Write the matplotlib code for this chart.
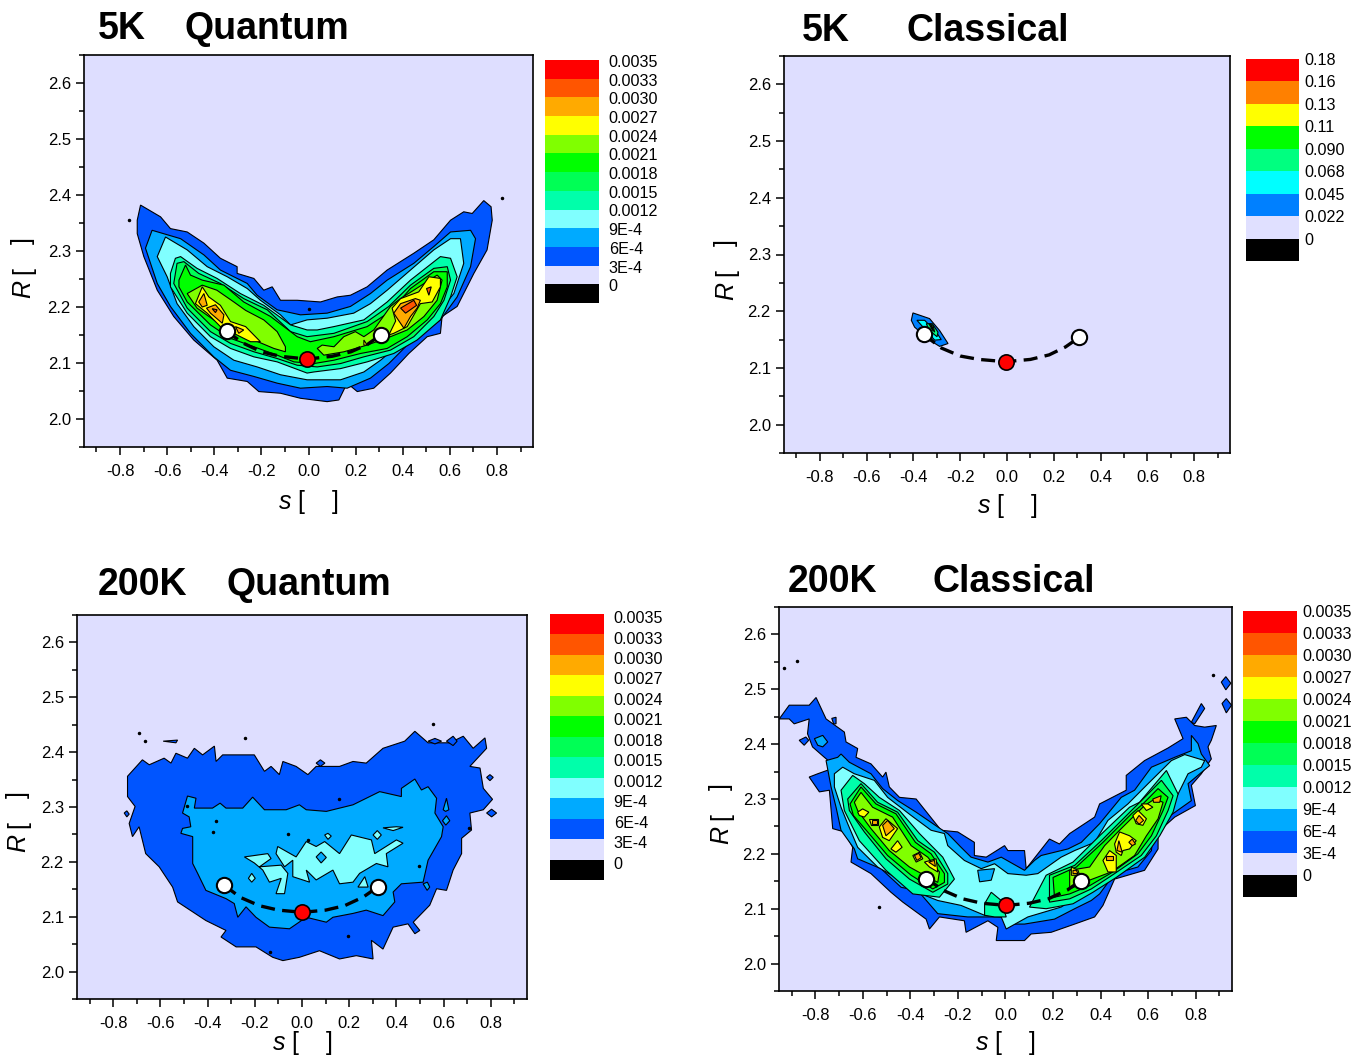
import matplotlib
matplotlib.use("Agg")
import matplotlib.pyplot as plt
from matplotlib.colors import ListedColormap
from matplotlib.ticker import MultipleLocator
import numpy as np

plt.rcParams['font.family'] = ['Liberation Sans', 'DejaVu Sans']
plt.rcParams['axes.unicode_minus'] = False

W, H = 1360, 1057

# colour bands, bottom to top
colors13 = ['#000000', '#E0E0FF', '#0055FF', '#00AAFF', '#80FFFF', '#00FFAA', '#00FF55',
            '#00FF00', '#80FF00', '#FFFF00', '#FFAA00', '#FF5500', '#FF0000']
colors9 = ['#000000', '#E0E0FF', '#0080FF', '#00FFFF', '#00FF80', '#00FF00', '#FFFF00',
           '#FF8000', '#FF0000']
labels13 = ['0', '3E-4', '6E-4', '9E-4', '0.0012', '0.0015', '0.0018', '0.0021', '0.0024',
            '0.0027', '0.0030', '0.0033', '0.0035']
labels9 = ['0', '0.022', '0.045', '0.068', '0.090', '0.11', '0.13', '0.16', '0.18']

# %% contour outlines, (s, R)
a1 = [(-0.727,2.355),(-0.713,2.382),(-0.628,2.361),(-0.586,2.340),(-0.515,2.334),(-0.444,2.314),(-0.374,2.287),
      (-0.303,2.272),(-0.303,2.260),(-0.232,2.251),(-0.190,2.230),(-0.154,2.236),(-0.119,2.212),(-0.048,2.212),
      (0.051,2.209),(0.122,2.218),(0.178,2.221),(0.249,2.236),(0.334,2.266),(0.447,2.296),(0.532,2.320),
      (0.603,2.355),(0.659,2.370),(0.695,2.367),(0.744,2.390),(0.775,2.379),(0.780,2.355),(0.758,2.302),
      (0.702,2.260),(0.631,2.201),(0.567,2.183),(0.560,2.153),(0.504,2.147),(0.426,2.117),(0.348,2.082),
      (0.277,2.055),(0.207,2.049),(0.164,2.064),(0.129,2.034),(0.079,2.031),(-0.034,2.037),(-0.119,2.046),
      (-0.211,2.049),(-0.260,2.067),(-0.345,2.073),(-0.388,2.105),(-0.487,2.141),(-0.572,2.183),(-0.642,2.230),
      (-0.699,2.290),(-0.727,2.331)]
a2 = [(-0.692,2.305),(-0.664,2.337),(-0.543,2.322),(-0.444,2.293),(-0.374,2.266),(-0.260,2.242),(-0.218,2.221),
      (-0.133,2.195),(-0.034,2.186),(0.079,2.189),(0.178,2.201),(0.263,2.224),(0.334,2.248),(0.447,2.278),
      (0.532,2.308),(0.603,2.334),(0.688,2.337),(0.709,2.322),(0.688,2.272),(0.631,2.218),(0.560,2.177),
      (0.504,2.159),(0.412,2.129),(0.341,2.099),(0.263,2.073),(0.164,2.055),(0.079,2.058),(-0.034,2.055),
      (-0.133,2.064),(-0.232,2.076),(-0.331,2.087),(-0.402,2.111),(-0.501,2.153),(-0.586,2.201),(-0.642,2.242)]
a3 = [(-0.642,2.290),(-0.607,2.325),(-0.515,2.302),(-0.430,2.272),(-0.345,2.254),(-0.260,2.233),(-0.204,2.212),
      (-0.119,2.186),(-0.076,2.168),(-0.006,2.177),(0.079,2.180),(0.192,2.189),(0.263,2.206),(0.334,2.230),
      (0.433,2.266),(0.532,2.302),(0.603,2.322),(0.645,2.322),(0.659,2.278),(0.617,2.224),(0.560,2.195),
      (0.490,2.165),(0.391,2.135),(0.306,2.105),(0.235,2.084),(0.136,2.070),(-0.006,2.070),(-0.119,2.079),
      (-0.218,2.093),(-0.317,2.105),(-0.402,2.129),(-0.487,2.165),(-0.558,2.206),(-0.600,2.254)]
a4 = [(-0.586,2.260),(-0.565,2.287),(-0.543,2.290),(-0.473,2.269),(-0.388,2.251),(-0.289,2.224),(-0.190,2.203),
      (-0.076,2.168),(-0.006,2.159),(0.037,2.159),(0.108,2.165),(0.235,2.177),(0.334,2.209),(0.433,2.248),
      (0.560,2.290),(0.603,2.287),(0.631,2.254),(0.603,2.218),(0.560,2.177),(0.461,2.141),(0.362,2.117),
      (0.249,2.102),(0.136,2.090),(0.023,2.084),(-0.006,2.082),(-0.133,2.102),(-0.232,2.111),(-0.331,2.126),
      (-0.416,2.147),(-0.515,2.189),(-0.586,2.236)]
a5 = [(-0.558,2.278),(-0.529,2.281),(-0.466,2.260),(-0.374,2.242),(-0.275,2.215),(-0.175,2.195),(-0.076,2.156),
      (-0.006,2.147),(0.051,2.150),(0.108,2.153),(0.249,2.174),(0.341,2.201),(0.433,2.239),(0.532,2.269),
      (0.589,2.272),(0.603,2.248),(0.575,2.212),(0.532,2.183),(0.447,2.147),(0.348,2.123),(0.235,2.111),
      (0.136,2.099),(0.037,2.093),(-0.048,2.096),(-0.133,2.108),(-0.232,2.120),(-0.331,2.135),(-0.416,2.156),
      (-0.515,2.198),(-0.572,2.242)]
a6 = [(-0.550,2.248),(-0.522,2.275),(-0.501,2.257),(-0.451,2.248),(-0.359,2.239),(-0.275,2.209),(-0.161,2.183),
      (-0.048,2.147),(0.008,2.138),(0.108,2.147),(0.249,2.165),(0.348,2.192),(0.433,2.233),(0.532,2.263),
      (0.589,2.263),(0.589,2.236),(0.560,2.206),(0.504,2.177),(0.419,2.147),(0.334,2.126),(0.221,2.117),
      (0.108,2.105),(0.023,2.099),(-0.062,2.102),(-0.133,2.114),(-0.232,2.129),(-0.331,2.144),(-0.416,2.168),
      (-0.515,2.209),(-0.550,2.236)]
a7l = [(-0.515,2.224),(-0.451,2.239),(-0.389,2.230),(-0.317,2.209),(-0.267,2.194),(-0.190,2.177),(-0.133,2.156),
       (-0.098,2.129),(-0.098,2.120),(-0.147,2.126),(-0.232,2.141),(-0.331,2.159),(-0.402,2.177),(-0.473,2.198)]
a7r = [(0.037,2.126),(0.058,2.132),(0.108,2.129),(0.150,2.147),(0.199,2.156),(0.235,2.147),(0.277,2.159),
       (0.348,2.201),(0.390,2.215),(0.447,2.230),(0.546,2.257),(0.567,2.248),(0.546,2.212),(0.490,2.183),
       (0.419,2.159),(0.348,2.147),(0.249,2.132),(0.150,2.120),(0.065,2.114)]
a8l = [(-0.480,2.206),(-0.451,2.236),(-0.423,2.218),(-0.374,2.203),(-0.331,2.174),(-0.267,2.165),(-0.204,2.138),
       (-0.246,2.138),(-0.289,2.147),(-0.374,2.165),(-0.430,2.189)]
a8r = [(0.341,2.150),(0.370,2.175),(0.355,2.198),(0.391,2.215),(0.468,2.227),(0.511,2.254),(0.560,2.251),
       (0.560,2.236),(0.525,2.209),(0.475,2.206),(0.419,2.165),(0.362,2.153)]
a8s = [(0.235,2.141),(0.249,2.132),(0.235,2.132)]
a9a = [(-0.466,2.209),(-0.444,2.224),(-0.430,2.203),(-0.451,2.200)]
a9b = [(-0.433,2.198),(-0.395,2.204),(-0.359,2.186),(-0.366,2.171),(-0.416,2.189)]
a9c = [(-0.310,2.165),(-0.275,2.159),(-0.296,2.153)]
a9d = [(0.362,2.189),(0.391,2.206),(0.454,2.215),(0.475,2.212),(0.461,2.198),(0.433,2.183),(0.405,2.162),
       (0.376,2.180)]
a10a = [(0.391,2.198),(0.447,2.212),(0.459,2.203),(0.412,2.189)]
a10b = [(0.501,2.233),(0.521,2.236),(0.511,2.221)]
a10c = [(-0.409,2.197),(-0.388,2.195),(-0.395,2.190)]
a_rings = [(2,a1),(3,a2),(4,a3),(5,a4),(6,a5),(7,a6),(8,a7l),(8,a7r),(9,a8l),(9,a8r),(9,a8s),(10,a9a),(10,a9b),
           (10,a9c),(10,a9d),(11,a10a),(11,a10b),(11,a10c)]
a_dots = [(-0.764,2.355),(0.823,2.394),(0.002,2.197)]

b1 = [(-0.409,2.184),(-0.402,2.197),(-0.331,2.187),(-0.288,2.166),(-0.252,2.143),(-0.288,2.138),(-0.331,2.149),
      (-0.395,2.172)]
b2 = [(-0.385,2.184),(-0.352,2.184),(-0.302,2.163),(-0.281,2.150),(-0.309,2.149),(-0.352,2.169)]
b3 = [(-0.345,2.178),(-0.319,2.178),(-0.295,2.163),(-0.299,2.155),(-0.331,2.166)]
b4 = [(-0.334,2.178),(-0.316,2.175),(-0.309,2.163),(-0.323,2.170)]
b5 = [(-0.326,2.175),(-0.318,2.172),(-0.316,2.166)]
b_rings = [(2,b1),(3,b2),(4,b3),(5,b4),(7,b5)]
b_dots = []

c1 = [(-0.739,2.356),(-0.676,2.386),(-0.647,2.377),(-0.584,2.389),(-0.555,2.380),(-0.534,2.398),(-0.485,2.389),
      (-0.456,2.407),(-0.421,2.395),(-0.371,2.411),(-0.364,2.383),(-0.336,2.395),(-0.279,2.395),(-0.202,2.395),
      (-0.159,2.365),(-0.131,2.374),(-0.096,2.359),(-0.081,2.383),(-0.025,2.374),(0.025,2.359),(0.060,2.374),
      (0.159,2.374),(0.216,2.383),(0.272,2.380),(0.343,2.407),(0.435,2.420),(0.478,2.438),(0.534,2.417),
      (0.626,2.417),(0.683,2.429),(0.725,2.407),(0.775,2.426),(0.782,2.407),(0.711,2.374),(0.754,2.371),
      (0.768,2.334),(0.807,2.314),(0.768,2.295),(0.711,2.289),(0.718,2.258),(0.676,2.243),(0.676,2.215),
      (0.640,2.185),(0.612,2.148),(0.570,2.151),(0.541,2.121),(0.471,2.090),(0.499,2.075),(0.478,2.069),
      (0.449,2.087),(0.386,2.081),(0.343,2.041),(0.294,2.057),(0.301,2.023),(0.230,2.029),(0.159,2.023),
      (0.074,2.038),(-0.011,2.026),(-0.081,2.020),(-0.124,2.026),(-0.195,2.045),(-0.279,2.045),(-0.343,2.063),
      (-0.322,2.075),(-0.407,2.093),(-0.527,2.127),(-0.548,2.154),(-0.605,2.191),(-0.662,2.215),(-0.690,2.264),
      (-0.718,2.246),(-0.732,2.270),(-0.707,2.301),(-0.739,2.319)]
c2 = [(-0.506,2.289),(-0.485,2.320),(-0.449,2.316),(-0.456,2.298),(-0.379,2.298),(-0.347,2.307),(-0.322,2.298),
      (-0.251,2.298),(-0.209,2.318),(-0.159,2.295),(-0.067,2.295),(-0.011,2.304),(0.018,2.295),(0.103,2.292),
      (0.216,2.304),(0.329,2.328),(0.421,2.319),(0.421,2.334),(0.478,2.351),(0.506,2.331),(0.534,2.337),
      (0.570,2.316),(0.563,2.289),(0.598,2.264),(0.591,2.246),(0.534,2.203),(0.513,2.163),(0.421,2.160),
      (0.386,2.145),(0.393,2.127),(0.343,2.102),(0.272,2.112),(0.216,2.106),(0.131,2.099),(0.103,2.090),
      (0.018,2.099),(-0.053,2.078),(-0.138,2.081),(-0.195,2.099),(-0.237,2.118),(-0.272,2.099),(-0.287,2.124),
      (-0.322,2.133),(-0.407,2.148),(-0.442,2.179),(-0.463,2.197),(-0.463,2.246),(-0.513,2.252),(-0.506,2.261),
      (-0.471,2.264),(-0.478,2.282)]
c3a = [(-0.103,2.228),(-0.025,2.209),(0.018,2.237),(0.060,2.228),(0.096,2.237),(0.159,2.215),(0.209,2.249),
       (0.294,2.240),(0.308,2.215),(0.400,2.240),(0.428,2.234),(0.357,2.215),(0.364,2.191),(0.315,2.197),
       (0.244,2.179),(0.216,2.163),(0.159,2.160),(0.131,2.185),(0.060,2.167),(0.018,2.185),(0.032,2.163),
       (-0.039,2.173),(-0.039,2.203),(-0.074,2.191),(-0.110,2.215)]
c3b = [(-0.244,2.209),(-0.145,2.215),(-0.131,2.206),(-0.180,2.191),(-0.088,2.194),(-0.060,2.179),(-0.074,2.142),
       (-0.110,2.142),(-0.088,2.170),(-0.138,2.163),(-0.166,2.185),(-0.202,2.198)]
c3c = [(0.237,2.154),(0.266,2.173),(0.280,2.154)]
c3d = [(0.343,2.262),(0.400,2.264),(0.428,2.263),(0.386,2.257)]
c3e = [(0.301,2.249),(0.319,2.257),(0.336,2.249),(0.319,2.241)]
c3f = [(0.096,2.249),(0.110,2.252),(0.124,2.247),(0.110,2.241)]
c3g = [(-0.227,2.170),(-0.213,2.179),(-0.198,2.170),(-0.213,2.163)]
c_hole = [(0.060,2.209),(0.081,2.218),(0.103,2.208),(0.081,2.198)]
c_isl = [[(0.612,2.420),(0.640,2.429),(0.657,2.420),(0.640,2.412)],
         [(0.534,2.420),(0.563,2.425),(0.591,2.420),(0.563,2.415)],
         [(0.060,2.380),(0.078,2.386),(0.097,2.380),(0.078,2.374)],
         [(0.782,2.354),(0.796,2.359),(0.810,2.354),(0.796,2.348)],
         [(0.782,2.289),(0.803,2.296),(0.824,2.289),(0.803,2.282)],
         [(-0.588,2.420),(-0.527,2.422),(-0.534,2.417)],
         [(-0.753,2.289),(-0.742,2.293),(-0.732,2.287),(-0.742,2.282)]]
c_isl2 = [[(0.598,2.295),(0.612,2.316),(0.622,2.295),(0.608,2.292)],
          [(0.595,2.275),(0.612,2.284),(0.626,2.275),(0.609,2.267)],
          [(0.513,2.160),(0.531,2.163),(0.541,2.154),(0.530,2.148)]]
c_rings = [(2,c1)] + [(2,r) for r in c_isl] + [(3,c2)] + [(3,r) for r in c_isl2] + \
          [(4,c3a),(4,c3b),(4,c3c),(4,c3d),(4,c3e),(4,c3f),(4,c3g),(3,c_hole)]
c_dots = [(-0.692,2.434),(-0.665,2.420),(-0.241,2.425),(0.556,2.451),(0.708,2.262),(-0.363,2.274),(0.497,2.193),
          (0.193,2.065),(-0.135,2.035),(0.157,2.315),(-0.379,2.254),(-0.485,2.302),(0.025,2.240),(-0.060,2.250)]

d1 = [(-0.952,2.446),(-0.910,2.471),(-0.826,2.471),(-0.797,2.485),(-0.755,2.446),(-0.678,2.422),(-0.671,2.404),
      (-0.622,2.392),(-0.629,2.376),(-0.566,2.364),(-0.517,2.340),(-0.503,2.349),(-0.489,2.322),(-0.446,2.303),
      (-0.376,2.300),(-0.271,2.243),(-0.201,2.240),(-0.131,2.221),(-0.131,2.197),(-0.081,2.194),(-0.004,2.215),
      (0.010,2.206),(0.080,2.206),(0.087,2.173),(0.185,2.227),(0.227,2.218),(0.270,2.237),(0.375,2.267),
      (0.396,2.291),(0.508,2.316),(0.508,2.343),(0.585,2.370),(0.684,2.393),(0.747,2.410),(0.712,2.446),
      (0.761,2.449),(0.796,2.434),(0.838,2.431),(0.887,2.434),(0.866,2.407),(0.852,2.395),(0.866,2.373),
      (0.824,2.346),(0.782,2.325),(0.799,2.288),(0.712,2.267),(0.642,2.240),(0.642,2.209),(0.585,2.170),
      (0.459,2.154),(0.410,2.106),(0.375,2.085),(0.291,2.072),(0.192,2.057),(0.108,2.054),(0.080,2.042),
      (-0.039,2.042),(-0.032,2.066),(-0.074,2.078),(-0.166,2.057),(-0.173,2.078),(-0.278,2.085),(-0.320,2.063),
      (-0.334,2.081),(-0.432,2.112),(-0.482,2.130),(-0.566,2.164),(-0.650,2.185),(-0.643,2.212),(-0.678,2.240),
      (-0.727,2.246),(-0.741,2.316),(-0.783,2.313),(-0.826,2.340),(-0.790,2.346),(-0.713,2.358),(-0.762,2.376),
      (-0.812,2.395),(-0.833,2.419),(-0.826,2.446),(-0.889,2.437),(-0.910,2.446)]
d2 = [(-0.755,2.370),(-0.706,2.376),(-0.692,2.382),(-0.657,2.367),(-0.566,2.346),(-0.517,2.319),(-0.453,2.297),
      (-0.376,2.276),(-0.285,2.249),(-0.243,2.237),(-0.187,2.212),(-0.145,2.194),(-0.074,2.185),(-0.018,2.194),
      (0.080,2.170),(0.122,2.188),(0.150,2.197),(0.263,2.209),(0.319,2.221),(0.396,2.255),(0.487,2.303),
      (0.543,2.316),(0.614,2.358),(0.712,2.376),(0.782,2.388),(0.782,2.416),(0.810,2.401),(0.824,2.382),
      (0.859,2.361),(0.768,2.328),(0.782,2.297),(0.684,2.267),(0.621,2.237),(0.614,2.206),(0.557,2.176),
      (0.459,2.164),(0.396,2.127),(0.361,2.115),(0.291,2.100),(0.206,2.081),(0.080,2.072),(0.010,2.072),
      (-0.004,2.085),(-0.088,2.085),(-0.159,2.085),(-0.285,2.091),(-0.369,2.133),(-0.439,2.139),(-0.524,2.173),
      (-0.622,2.191),(-0.636,2.209),(-0.692,2.243),(-0.713,2.285),(-0.734,2.322)]
d3 = [(-0.720,2.346),(-0.685,2.358),(-0.636,2.346),(-0.552,2.334),(-0.496,2.303),(-0.397,2.270),(-0.313,2.243),
      (-0.257,2.237),(-0.243,2.215),(-0.173,2.188),(-0.102,2.173),(-0.046,2.182),(0.010,2.164),(0.087,2.161),
      (0.136,2.164),(0.234,2.194),(0.291,2.206),(0.375,2.221),(0.431,2.261),(0.515,2.291),(0.600,2.328),
      (0.698,2.370),(0.754,2.381),(0.838,2.370),(0.824,2.358),(0.768,2.346),(0.726,2.309),(0.684,2.279),
      (0.614,2.249),(0.571,2.215),(0.487,2.182),(0.389,2.151),(0.319,2.127),(0.234,2.103),(0.094,2.085),
      (0.003,2.063),(-0.018,2.085),(-0.088,2.088),(-0.187,2.106),(-0.285,2.115),(-0.355,2.127),(-0.439,2.151),
      (-0.538,2.176),(-0.622,2.212),(-0.664,2.255),(-0.692,2.285),(-0.720,2.322)]
d3h = [(-0.117,2.170),(-0.046,2.173),(-0.060,2.152),(-0.109,2.149)]
d4l = [(-0.692,2.316),(-0.643,2.343),(-0.594,2.328),(-0.531,2.303),(-0.446,2.279),(-0.362,2.237),(-0.264,2.194),
       (-0.215,2.154),(-0.278,2.121),(-0.390,2.127),(-0.503,2.170),(-0.615,2.224),(-0.678,2.279)]
d4r = [(0.101,2.103),(0.171,2.161),(0.284,2.185),(0.396,2.233),(0.522,2.285),(0.564,2.294),(0.677,2.352),
       (0.726,2.309),(0.705,2.276),(0.649,2.233),(0.586,2.194),(0.466,2.157),(0.368,2.130),(0.284,2.109),
       (0.171,2.100)]
d4c = [(-0.088,2.109),(-0.060,2.130),(-0.018,2.115),(0.003,2.085),(-0.046,2.085),(-0.088,2.088)]
d5l = [(-0.664,2.300),(-0.608,2.328),(-0.538,2.294),(-0.454,2.276),(-0.369,2.224),(-0.299,2.203),(-0.243,2.164),
       (-0.243,2.145),(-0.306,2.130),(-0.404,2.154),(-0.503,2.191),(-0.594,2.240),(-0.657,2.279)]
d5r = [(0.185,2.161),(0.291,2.179),(0.403,2.224),(0.530,2.279),(0.572,2.297),(0.656,2.334),(0.705,2.306),
       (0.684,2.279),(0.635,2.233),(0.571,2.197),(0.459,2.164),(0.361,2.136),(0.270,2.118),(0.185,2.112)]
d6l = [(-0.654,2.291),(-0.608,2.322),(-0.545,2.291),(-0.461,2.273),(-0.379,2.221),(-0.313,2.200),(-0.257,2.164),
       (-0.257,2.148),(-0.306,2.136),(-0.397,2.161),(-0.496,2.197),(-0.580,2.240),(-0.640,2.270)]
d6r = [(0.200,2.157),(0.298,2.176),(0.410,2.221),(0.530,2.273),(0.578,2.291),(0.642,2.319),(0.684,2.303),
       (0.663,2.279),(0.614,2.233),(0.557,2.200),(0.452,2.167),(0.354,2.142),(0.270,2.127),(0.206,2.121)]
d7l = [(-0.636,2.294),(-0.608,2.312),(-0.559,2.285),(-0.475,2.267),(-0.397,2.215),(-0.327,2.194),(-0.278,2.167),
       (-0.285,2.148),(-0.341,2.161),(-0.404,2.176),(-0.489,2.206),(-0.566,2.246),(-0.622,2.279)]
d7r = [(0.270,2.170),(0.354,2.176),(0.417,2.215),(0.473,2.240),(0.536,2.267),(0.585,2.288),(0.628,2.300),
       (0.663,2.294),(0.642,2.264),(0.593,2.233),(0.543,2.197),(0.445,2.167),(0.347,2.151),(0.270,2.136)]
d8 = [[(-0.622,2.276),(-0.601,2.282),(-0.575,2.276),(-0.594,2.267),(-0.615,2.270)],
      [(-0.531,2.249),(-0.503,2.264),(-0.454,2.246),(-0.489,2.224),(-0.517,2.230)],
      [(-0.482,2.209),(-0.454,2.224),(-0.435,2.212),(-0.461,2.203)],
      [(-0.341,2.185),(-0.292,2.191),(-0.285,2.167),(-0.320,2.176)],
      [(-0.573,2.264),(-0.538,2.264),(-0.538,2.252),(-0.566,2.252)],
      [(-0.390,2.197),(-0.362,2.203),(-0.348,2.191),(-0.376,2.185)],
      [(0.410,2.188),(0.438,2.206),(0.466,2.197),(0.466,2.167),(0.431,2.167)],
      [(0.459,2.218),(0.480,2.240),(0.522,2.233),(0.550,2.224),(0.522,2.209),(0.494,2.206),(0.487,2.197),(0.466,2.203)],
      [(0.536,2.270),(0.558,2.279),(0.593,2.264),(0.578,2.252),(0.550,2.255)],
      [(0.571,2.291),(0.599,2.291),(0.620,2.285),(0.593,2.279)],
      [(0.277,2.176),(0.305,2.170),(0.312,2.161),(0.277,2.161)]]
d9 = [[(-0.517,2.252),(-0.496,2.261),(-0.468,2.246),(-0.503,2.233)],
      [(-0.562,2.262),(-0.541,2.262),(-0.541,2.254),(-0.562,2.254)],
      [(-0.383,2.197),(-0.365,2.201),(-0.355,2.193),(-0.373,2.188)],
      [(-0.323,2.185),(-0.299,2.188),(-0.295,2.177)],
      [(0.424,2.197),(0.452,2.197),(0.452,2.188),(0.424,2.188)],
      [(0.469,2.206),(0.477,2.224),(0.491,2.203)],
      [(0.519,2.221),(0.533,2.227),(0.547,2.218),(0.533,2.215)],
      [(0.548,2.261),(0.562,2.270),(0.581,2.261),(0.562,2.254)],
      [(0.284,2.170),(0.298,2.170),(0.305,2.164),(0.284,2.164)],
      [(0.620,2.300),(0.655,2.306),(0.649,2.294),(0.623,2.294)]]
d_isl = [[(0.908,2.513),(0.927,2.523),(0.948,2.511),(0.927,2.499)],
         [(0.911,2.474),(0.929,2.483),(0.951,2.471),(0.929,2.457)],
         [(0.782,2.440),(0.824,2.474),(0.838,2.465),(0.796,2.437)],
         [(-0.868,2.407),(-0.840,2.413),(-0.828,2.407),(-0.847,2.398)],
         [(-0.731,2.447),(-0.713,2.449),(-0.713,2.437),(-0.723,2.437)]]
d_isl2 = [[(-0.804,2.410),(-0.769,2.416),(-0.748,2.404),(-0.769,2.395),(-0.790,2.398)]]
d_rings = [(2,d1)] + [(2,r) for r in d_isl] + [(3,d2)] + [(3,r) for r in d_isl2] + \
          [(4,d3),(3,d3h),(5,d4l),(5,d4r),(5,d4c),(6,d5l),(6,d5r),(7,d6l),(7,d6r),(8,d7l),(8,d7r)] + \
          [(9,r) for r in d8] + [(10,r) for r in d9]
d_dots = [(-0.531,2.103),(0.873,2.526),(-0.931,2.539),(-0.878,2.551)]

# reaction path through the two minima and the saddle
a_path_s = [-0.348,-0.28,-0.20,-0.12,-0.006,0.10,0.18,0.25,0.306]
a_path_r = [2.157,2.136,2.120,2.112,2.107,2.112,2.120,2.133,2.150]
b_path_s = [-0.356,-0.28,-0.20,-0.12,-0.006,0.10,0.18,0.25,0.309]
b_path_r = [2.159,2.135,2.121,2.115,2.111,2.115,2.123,2.137,2.154]
c_path_s = [-0.329,-0.26,-0.18,-0.10,0.002,0.10,0.18,0.26,0.320]
c_path_r = [2.157,2.135,2.120,2.112,2.108,2.112,2.120,2.136,2.154]
d_path_s = [-0.333,-0.26,-0.18,-0.10,0.004,0.10,0.18,0.26,0.316]
d_path_r = [2.155,2.133,2.118,2.110,2.106,2.110,2.118,2.134,2.151]

fig = plt.figure(figsize=(W/100, H/100), dpi=100)


def px_axes(x0, y0, x1, y1):
    return fig.add_axes([x0/W, 1-y1/H, (x1-x0)/W, (y1-y0)/H])


def px_text(x, y, s, **kw):
    fig.text(x/W, 1-y/H, s, **kw)


def panel(box, rings, dots, path_s, path_r, colors):
    ax = px_axes(*box)
    ax.set_facecolor('#DEDEFF')
    for lev, ring in rings:
        ss, rr = zip(*ring)
        ax.fill(ss, rr, facecolor=colors[lev], edgecolor='k', lw=0.8, zorder=2)
    if dots:
        ds, dr = zip(*dots)
        ax.plot(ds, dr, 'o', color='k', ms=1.5, zorder=2)
    ax.plot(path_s, path_r, color='k', lw=2.4, dashes=(4.2, 2.2), zorder=3)
    ax.plot([path_s[0], path_s[-1]], [path_r[0], path_r[-1]], 'o', mfc='white', mec='k', mew=1.5, ms=11, zorder=4)
    ax.plot(path_s[4], path_r[4], 'o', mfc='red', mec='k', mew=1.2, ms=11, zorder=4)
    ax.set_xlim(-0.953, 0.953)
    ax.set_ylim(1.95, 2.65)
    ax.xaxis.set_major_locator(MultipleLocator(0.2))
    ax.xaxis.set_minor_locator(MultipleLocator(0.1))
    ax.yaxis.set_major_locator(MultipleLocator(0.1))
    ax.yaxis.set_minor_locator(MultipleLocator(0.05))
    ax.xaxis.set_major_formatter('{x:.1f}')
    ax.yaxis.set_major_formatter('{x:.1f}')
    ax.tick_params(which='major', length=5.5, width=1.1, labelsize=12)
    ax.tick_params(which='minor', length=3.3, width=1.1)
    ax.tick_params(axis='x', which='major', pad=7)
    ax.tick_params(axis='y', which='major', pad=4)
    for sp in ax.spines.values():
        sp.set_linewidth(1.2)
    return ax


def colorbar(box, colors, labels, pad, dy):
    cax = px_axes(*box)
    n = len(colors)
    vals = np.arange(n).reshape(-1, 1)
    cax.pcolormesh([0, 1], np.arange(n+1), vals, cmap=ListedColormap(colors), vmin=-0.5, vmax=n-0.5)
    cax.set_xticks([])
    cax.set_ylim(0, n)
    cax.yaxis.tick_right()
    cax.set_yticks(np.arange(1, n+1) - dy)
    cax.set_yticklabels(labels)
    cax.tick_params(length=0, labelsize=11.6, pad=pad)
    for sp in cax.spines.values():
        sp.set_visible(False)


panel((84, 55, 533, 447), a_rings, a_dots, a_path_s, a_path_r, colors13)
panel((784, 56, 1230, 453), b_rings, b_dots, b_path_s, b_path_r, colors9)
panel((77, 615, 527, 999), c_rings, c_dots, c_path_s, c_path_r, colors13)
panel((779, 607, 1232, 991), d_rings, d_dots, d_path_s, d_path_r, colors13)

colorbar((545, 60, 599, 303), colors13, labels13, 7, 0.05)
colorbar((1246, 59, 1299, 261), colors9, labels9, 3.6, 0)
colorbar((550, 614, 604, 880), colors13, labels13, 7, 0.15)
colorbar((1243, 611, 1297, 897), colors13, labels13, 3.6, 0)

# titles
tkw = dict(fontsize=27, fontweight='bold', va='baseline', ha='left')
for x, y, s in [(98, 39, '5K'), (184, 39, 'Quantum'), (802, 41, '5K'), (907, 41, 'Classical'),
                (98, 595, '200K'), (226, 595, 'Quantum'), (788, 592, '200K'), (933, 592, 'Classical')]:
    px_text(x, y, s, **tkw)

# axis labels, units left blank as in the source
for x, y in [(285, 502), (984, 506), (279, 1043), (982, 1043)]:
    px_text(x, y, 's', fontsize=18, style='italic', ha='center', va='center')
    px_text(x+16, y, '[', fontsize=18, ha='center', va='center')
    px_text(x+50, y, ']', fontsize=18, ha='center', va='center')
for x, y in [(23, 289), (726, 291), (18, 843), (721, 835)]:
    px_text(x, y, 'R', fontsize=18, style='italic', rotation=90, ha='center', va='center')
    px_text(x, y-18, '[', fontsize=18, rotation=90, ha='center', va='center')
    px_text(x, y-48, ']', fontsize=18, rotation=90, ha='center', va='center')

fig.savefig('out.png', dpi=100)
